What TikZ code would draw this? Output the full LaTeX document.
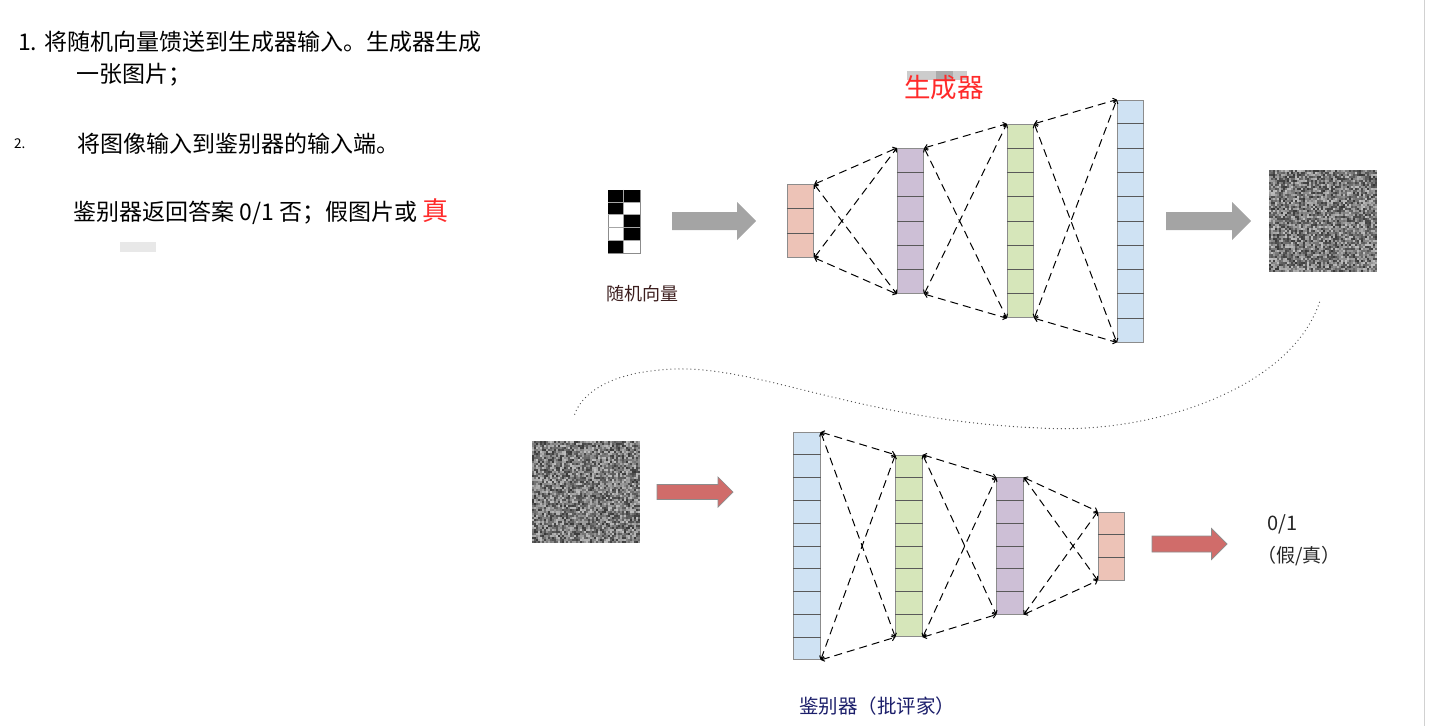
\documentclass[tikz,border=0pt]{standalone}
\usepackage{fontspec}
\setmainfont{Noto Sans CJK SC}
\usetikzlibrary{arrows.meta,calc}
\definecolor{genred}{HTML}{FF2A2A}
\definecolor{vecbrown}{HTML}{3D1F1F}
\definecolor{critnavy}{HTML}{1C1F6B}
\definecolor{cellpink}{HTML}{EDC3B7}
\definecolor{cellpurple}{HTML}{CDBFD6}
\definecolor{cellgreen}{HTML}{D6E6BA}
\definecolor{cellblue}{HTML}{CFE2F3}
\definecolor{flowgray}{HTML}{A4A4A4}
\definecolor{flowred}{HTML}{D06C6A}
\definecolor{edgegray}{HTML}{8C8C8C}
\tikzset{
  note/.style={anchor=base west, inner sep=0pt, font=\fontsize{23}{28}\selectfont},
  caption/.style={anchor=west, inner sep=0pt},
  layerbox/.style={draw=edgegray, line width=0.9pt, minimum width=26.5pt, inner sep=0pt},
  cellline/.style={draw=black!65, line width=0.9pt},
  dashlink/.style={{Straight Barb[length=3pt,width=5pt]}-{Straight Barb[length=3pt,width=5pt]},
    dash pattern=on 8pt off 5pt, line width=1pt},
  grayarrow/.style={fill=flowgray, draw=none},
  redarrow/.style={fill=flowred, draw=edgegray, line width=0.7pt},
  noisebox/.style={minimum width=108pt, minimum height=102pt, inner sep=0pt},
  vecgrid/.style={draw=black!35, line width=0.8pt},
  smudge/.style={fill=black!9}
}
% one layer of the net: name, x, y, cells, colour, cell height
\newcommand{\netlayer}[6]{%
  \node[layerbox, fill=#5, minimum height={#4*#6pt}] (#1) at (#2,#3) {};
  \pgfmathtruncatemacro{\lastcut}{#4-1}
  \foreach \k in {1,...,\lastcut}
    \draw[cellline] ($(#1.north west)!\k/#4!(#1.south west)$) -- ($(#1.north east)!\k/#4!(#1.south east)$);
}
% block arrow: [style] name, x, y, length, shaft, head
\newcommand{\fatarrow}[7][]{%
  \coordinate (#2) at (#3,#4);
  \filldraw[#1] ($(#2)+({-#5/2},{-#6/2})$) -- ++({#5-#7/2},0) -- ++(0,{-(#7-#6)/2})
    -- ++({#7/2},{#7/2}) -- ++({-#7/2},{#7/2}) -- ++(0,{-(#7-#6)/2}) -- ++({-(#5-#7/2)},0) -- cycle;
}
% grey noise inside an image box
\newcommand{\noisefill}[1]{%
  \begin{scope}[shift={(#1.north west)}]
    \foreach \i in {0,...,53}
      \foreach \j in {0,...,50}{
        \pgfmathrandominteger{\g}{25}{78}
        \fill[black!\g] (2*\i,2*\j) rectangle ++(2,2);
      }
  \end{scope}}

\begin{document}
\begin{tikzpicture}[x=1pt,y=-1pt]
  \useasboundingbox (0,0) rectangle (1432,726);
  \pgfmathsetseed{42}

  % steps on the left
  \fill[smudge] (120,242) rectangle (156,252);
  \node[note] (stepa) at (18,50) {1. 将随机向量馈送到生成器输入。生成器生成};
  \node[note] (stepb) at (76,82.5) {一张图片；};
  \node[note, font=\fontsize{13.5}{16}\selectfont] (stepnum) at (14,148) {2.};
  \node[note] (stepc) at (77,152.5) {将图像输入到鉴别器的输入端。};
  \node[note] (stepd) at (73,220) {鉴别器返回答案 0/1 否；假图片或 \textcolor{genred}{\fontsize{26}{30}\selectfont 真}};

  % generator
  \node[draw=edgegray, line width=0.8pt, minimum width=32pt, minimum height=63pt, inner sep=0pt] (vec) at (624,221.5) {};
  \begin{scope}[shift={(vec.north west)}]
    \foreach \c/\r in {0/0,1/0,0/1,1/2,1/3,0/4}
      \fill[black] (16*\c,12.6*\r) rectangle ++(16,12.6);
    \foreach \r in {1,...,4}
      \draw[vecgrid] (0,12.6*\r) -- (32,12.6*\r);
    \draw[vecgrid] (16,0) -- (16,63);
  \end{scope}
  \node[caption, text=vecbrown, font=\fontsize{18}{21}\selectfont] (veclabel) at (606,294) {随机向量};
  \fatarrow[grayarrow]{arra}{714}{221}{84}{18}{38}

  \netlayer{g1}{800.5}{221}{3}{cellpink}{24.2}
  \netlayer{g2}{910.5}{221}{6}{cellpurple}{24.2}
  \netlayer{g3}{1020.5}{221}{8}{cellgreen}{24.2}
  \netlayer{g4}{1130.5}{221}{10}{cellblue}{24.2}
  \fill[black!20] (907,71) rectangle (967,80);
  \fill[black!33] (936,71) rectangle (953,80);
  \node[caption, text=genred, font=\fontsize{26.5}{30}\selectfont] (genlabel) at (904,88) {生成器};

  \fatarrow[grayarrow]{arrb}{1208.5}{221}{85}{18}{38}
  \node[noisebox] (img1) at (1323.5,221) {};
  \noisefill{img1}

  % discriminator
  \node[noisebox] (img2) at (586,492) {};
  \noisefill{img2}
  \fatarrow[redarrow]{arrc}{695}{492}{76}{15}{30}

  \netlayer{d1}{807}{546}{10}{cellblue}{22.7}
  \netlayer{d2}{909}{546}{8}{cellgreen}{22.7}
  \netlayer{d3}{1010}{546}{6}{cellpurple}{22.7}
  \netlayer{d4}{1111.5}{546}{3}{cellpink}{22.7}
  \node[caption, text=critnavy, font=\fontsize{19.5}{23}\selectfont] (critlabel) at (799,706) {鉴别器（批评家）};

  \fatarrow[redarrow]{arrd}{1189.5}{544}{75}{16}{31}
  \node[caption, text=black!85, font=\fontsize{20}{24}\selectfont] (score) at (1267,524) {0/1};
  \node[caption, text=black!85, font=\fontsize{19}{23}\selectfont] (verdict) at (1257,556) {（假/真）};

  % dashed links between layers
  \foreach \a/\b in {g1/g2,g2/g3,g3/g4,d1/d2,d2/d3,d3/d4}{
    \draw[dashlink] (\a.north east) -- (\b.north west);
    \draw[dashlink] (\a.south east) -- (\b.south west);
    \draw[dashlink] (\a.north east) -- (\b.south west);
    \draw[dashlink] (\a.south east) -- (\b.north west);
  }

  % generated image goes to the discriminator
  \coordinate (curvea) at ($(img1.south)+(-4,30)$);
  \coordinate (curveb) at ($(img2.north)+(-12,-24)$);
  \draw[black!70, line width=1.3pt, line cap=round, dash pattern=on 0pt off 4pt]
    (curvea) .. controls (1290,390) and (1150,435) .. (1040,428)
    .. controls (850,420) and (750,360) .. (660,370)
    .. controls (600,375) and (578,400) .. (curveb);

  \draw[black!18, line width=1.5pt] (1424.5,0) -- (1424.5,726);
\end{tikzpicture}
\end{document}
